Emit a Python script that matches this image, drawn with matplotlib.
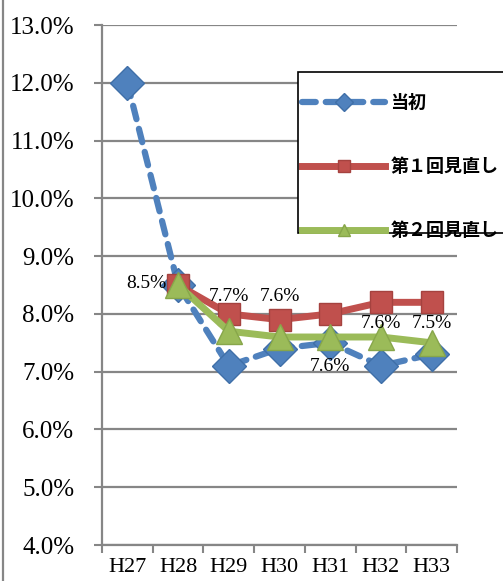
import numpy as np
import matplotlib
matplotlib.use("Agg")
import matplotlib.pyplot as plt
from matplotlib.lines import Line2D
from matplotlib.patches import Rectangle

years = ['H27', 'H28', 'H29', 'H30', 'H31', 'H32', 'H33']
initial = [12.0, 8.5, 7.1, 7.4, 7.5, 7.1, 7.3]
review1 = [np.nan, 8.5, 8.0, 7.9, 8.0, 8.2, 8.2]
review2 = [np.nan, 8.5, 7.7, 7.6, 7.6, 7.6, 7.5]
labels2 = ['', '8.5%', '7.7%', '7.6%', '7.6%', '7.6%', '7.5%']
names = ['当初', '第１回見直し', '第２回見直し']

serif = 'Liberation Serif'
W, H = 503, 581
fig = plt.figure(figsize=(W / 100, H / 100), dpi=100)
ax = fig.add_axes([102 / W, 36 / H, 355 / W, 520 / H])

x = np.arange(len(years))
ax.plot(x, initial, color='#4F81BD', lw=4.5, ls=(0, (2.2, 1.6)), dash_capstyle='round',
        marker='D', ms=17, mfc='#4F81BD', mec='#3F6FA8', mew=1, label=names[0], zorder=3)
ax.plot(x, review1, color='#C0504D', lw=5, marker='s', ms=16,
        mfc='#C0504D', mec='#A5423F', mew=1, label=names[1], zorder=4)
ax.plot(x, review2, color='#9BBB59', lw=5, marker='^', ms=19,
        mfc='#9BBB59', mec='#87A64A', mew=1, label=names[2], zorder=5)

# data labels of the second review
offsets = {1: (-23, 1), 2: (0, 25), 3: (0, 29), 4: (0, -21), 5: (0, 10), 6: (0, 14)}
for i, lab in enumerate(labels2):
    if not lab:
        continue
    dx, dy = offsets[i]
    ax.annotate(lab, (x[i], review2[i]), xytext=(dx, dy), textcoords='offset points',
                ha='center', va='center', fontsize=14, family=serif, zorder=6)

ax.set_xlim(-0.5, 6.5)
ax.set_ylim(4.0, 13.0)
ax.set_yticks(np.arange(4.0, 13.01, 1.0))
ax.set_yticklabels(['%.1f%%' % v for v in np.arange(4.0, 13.01, 1.0)], family=serif, fontsize=18)
ax.set_xticks(np.arange(-0.5, 6.6, 1.0), minor=False)
ax.set_xticklabels([])
ax.set_xticks(x, minor=True)
ax.set_xticklabels(years, minor=True, family=serif, fontsize=16)
ax.tick_params(axis='x', which='major', length=6, width=1.5, color='#868686')
ax.tick_params(axis='x', which='minor', length=0, pad=9)
ax.tick_params(axis='y', length=6, width=1.5, color='#868686', pad=14)
ax.yaxis.grid(True, color='#868686', lw=1.6)
ax.set_axisbelow(True)
for s in ['top', 'right']:
    ax.spines[s].set_visible(False)
for s in ['left', 'bottom']:
    ax.spines[s].set_color('#868686')
    ax.spines[s].set_linewidth(1.6)

# legend box (runs off the right edge like the original)
fig.add_artist(Rectangle((298 / W, 1 - 233 / H), 220 / W, 161 / H, transform=fig.transFigure,
                         fill=True, facecolor='white', edgecolor='black', lw=1.2, zorder=8))
leg = fig.legend(loc='upper left', bbox_to_anchor=(302 / W, 1 - 93 / H), frameon=False,
                 labelspacing=2.5, handlelength=4.6, handletextpad=0.3, borderaxespad=0,
                 borderpad=0, prop={'family': 'Noto Sans CJK JP', 'weight': 'bold', 'size': 13})
leg.set_zorder(9)
for h in leg.legend_handles:
    h.set_markersize(9)

fig.add_artist(Line2D([0.006, 0.006], [0, 1], color='#868686', lw=1.6, transform=fig.transFigure))

fig.savefig('out.png', dpi=100)
